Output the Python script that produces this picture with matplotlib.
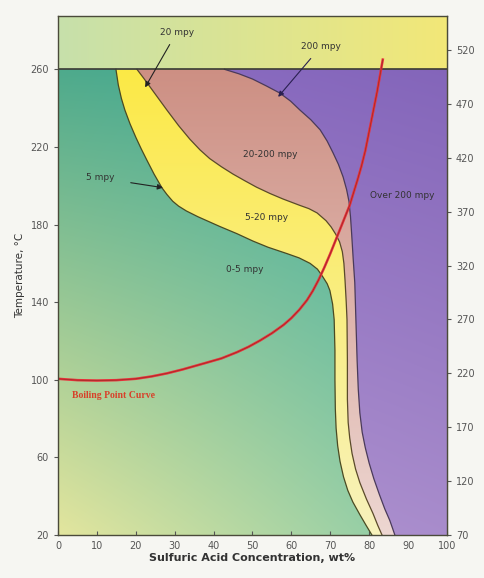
import numpy as np
import matplotlib
matplotlib.use('Agg')
import matplotlib.pyplot as plt
from matplotlib.patches import Polygon, Rectangle

# iso-corrosion boundaries, (wt% H2SO4, deg C)
b5_conc = [14.9, 15.5, 16.3, 17.2, 18.5, 20.0, 21.4, 22.9, 24.7, 26.7, 28.0, 29.5, 31.0, 33.0, 36.0,
           41.6, 46.0, 50.1, 54.0, 58.9, 62.0, 64.8, 66.7, 68.1, 69.2, 69.9, 70.6, 71.0, 71.2, 71.2,
           71.3, 71.5, 71.9, 72.5, 73.4, 74.5, 75.8, 77.6, 79.2, 80.7]
b5_temp = [260, 252, 245, 239, 232, 225, 219, 213, 206, 199, 195.5, 192, 189.5, 187, 184,
           179, 175.3, 171.5, 168.3, 165, 162.8, 160, 157, 153, 149.5, 146, 139, 131, 115, 100,
           85, 75, 66, 58, 50, 43, 37, 30.5, 25, 20]
b20_conc = [20.3, 22.0, 24.0, 26.0, 28.0, 31.0, 33.9, 36.5, 39.0, 42.0, 45.0, 48.0, 51.0, 54.5, 57.8,
            62.0, 64.5, 66.6, 68.9, 70.2, 71.4, 72.4, 73.1, 73.5, 73.8, 74.1, 74.3, 74.4, 74.4, 74.6,
            75.0, 75.6, 76.5, 77.6, 79.3, 81.0, 82.2, 83.3]
b20_temp = [260, 255.5, 250, 244.5, 239, 231, 224, 218.5, 214, 209.8, 206, 202.6, 199.3, 196, 193.2,
            190, 188.2, 186, 182, 178.8, 175, 171, 166, 160, 151, 140, 131, 110, 90, 78,
            70, 62, 54, 47, 38.5, 31, 25, 20]
b200_conc = [42.8, 46.5, 50.0, 53.5, 57.0, 59.8, 62.2, 65.0, 67.4, 69.2, 70.7, 72.1, 73.3, 74.2, 74.8,
             75.2, 75.5, 75.9, 76.3, 76.6, 76.9, 77.2, 77.6, 78.2, 79.0, 80.0, 81.2, 82.6, 84.0, 85.3,
             86.0, 86.6]
b200_temp = [260, 257.7, 255, 251.5, 247.8, 243.6, 239, 234, 228.8, 223, 217, 211, 204.5, 198, 192,
             184, 175, 162, 150, 130, 110, 95, 83, 73, 65, 57, 49, 41, 33.5, 27.5,
             23.5, 20]

# boiling point curve
bp_conc = [0, 5, 10, 15, 20, 24, 28, 32, 35, 38, 42, 46, 49, 52, 55, 58, 60, 62, 64, 65.5,
           67, 68.5, 70, 72, 73.5, 75, 77, 78, 79, 80, 81, 82, 83.5]
bp_temp = [100.5, 99.8, 99.6, 99.8, 100.5, 101.7, 103.3, 105.3, 107, 108.7, 111, 114.2, 117, 120.3, 124,
           128.3, 131.8, 136, 141, 145.8, 151.5, 158, 165, 175, 182.5, 190, 203, 210, 218, 228,
           238, 248, 265]

x_ticks = list(range(0, 101, 10))
y_ticks = [20, 60, 100, 140, 180, 220, 260]
f_ticks = [70, 120, 170, 220, 270, 320, 370, 420, 470, 520]

TOP = 287.5

fig = plt.figure(figsize=(4.84, 5.78), dpi=100, facecolor='#f6f6f2')
ax = fig.add_axes([0.1198, 0.0744, 0.8037, 0.898])
ax.set_xlim(0, 100)
ax.set_ylim(20, TOP)

n = 200
gx, gy = np.meshgrid(np.linspace(0, 1, n), np.linspace(0, 1, n))
ext = [0, 100, 20, TOP]


def bilinear(bl, br, tl, tr):
    bl, br, tl, tr = [np.array(c) for c in (bl, br, tl, tr)]
    X = gx[..., None]
    Y = gy[..., None]
    return (bl * (1 - X) * (1 - Y) + br * X * (1 - Y) + tl * (1 - X) * Y + tr * X * Y)


def fill_grad(img, patch, z):
    ax.add_patch(patch)
    patch.set_visible(False)
    im = ax.imshow(np.clip(img, 0, 1), extent=ext, origin='lower', aspect='auto',
                   zorder=z, interpolation='bilinear')
    im.set_clip_path(patch)


# 0-5 mpy (background below 260)
green = bilinear((0.89, 0.90, 0.62), (0.52, 0.79, 0.66), (0.24, 0.64, 0.54), (0.20, 0.66, 0.62))
fill_grad(green, Rectangle((0, 20), 100, 240, transform=ax.transData), 1)

# above 260
band = bilinear((0.78, 0.88, 0.67), (0.95, 0.91, 0.47), (0.78, 0.88, 0.67), (0.95, 0.91, 0.47))
fill_grad(band, Rectangle((0, 260), 100, TOP - 260, transform=ax.transData), 1)


def region(cs, ts):
    pts = list(zip(cs, ts)) + [(100, 20), (100, 260)]
    return Polygon(pts, closed=True, transform=ax.transData)


yellow = bilinear((0.97, 0.95, 0.74), (0.97, 0.95, 0.74), (0.99, 0.91, 0.22), (0.99, 0.91, 0.22))
fill_grad(yellow, region(b5_conc, b5_temp), 2)
pink = bilinear((0.93, 0.84, 0.82), (0.93, 0.84, 0.82), (0.79, 0.53, 0.48), (0.79, 0.53, 0.48))
fill_grad(pink, region(b20_conc, b20_temp), 3)
purple = bilinear((0.72, 0.60, 0.83), (0.66, 0.55, 0.80), (0.53, 0.41, 0.76), (0.50, 0.38, 0.72))
fill_grad(purple, region(b200_conc, b200_temp), 4)

ax.plot(b5_conc, b5_temp, color='#4a4a22', lw=0.9, zorder=5)
ax.plot(b20_conc, b20_temp, color='#5a4a2a', lw=0.9, zorder=5)
ax.plot(b200_conc, b200_temp, color='#4a3a5a', lw=0.9, zorder=5)
ax.axhline(260, color='#3a3a35', lw=1.2, zorder=5)

ax.plot(bp_conc, bp_temp, color='#e8303a', lw=1.8, zorder=6)
ax.plot(bp_conc, bp_temp, color='#8a2a20', lw=0.4, zorder=6)

lab = dict(fontsize=6.5, color='#333333', zorder=8, ha='center', va='center')
ax.text(54.5, 216, '20-200 mpy', **lab)
ax.text(53.7, 183.4, '5-20 mpy', **lab)
ax.text(48, 156.6, '0-5 mpy', **lab)
ax.text(88.5, 195, 'Over 200 mpy', **lab)
ax.annotate('20 mpy', xy=(22.4, 250.7), xytext=(30.5, 279), **lab,
            arrowprops=dict(arrowstyle='-|>', color='#222222', lw=0.8, mutation_scale=8,
                            shrinkA=4, shrinkB=0))
ax.annotate('200 mpy', xy=(56.6, 245.8), xytext=(67.5, 271.5), **lab,
            arrowprops=dict(arrowstyle='-|>', color='#2a2050', lw=0.8, mutation_scale=8,
                            shrinkA=4, shrinkB=0))
ax.annotate('5 mpy', xy=(27, 199), xytext=(10.8, 204), **lab,
            arrowprops=dict(arrowstyle='-|>', color='#222222', lw=0.8, mutation_scale=8,
                            shrinkA=10, shrinkB=0))
ax.text(3.6, 92, 'Boiling Point Curve', fontsize=7, color='#d8402a', family='Liberation Serif',
        fontweight='bold', ha='left', va='center', zorder=8)

ax.set_xticks(x_ticks)
ax.set_yticks(y_ticks)
ax.tick_params(axis='x', direction='in', length=3, colors='#555555', labelsize=7, pad=4)
ax.tick_params(axis='y', direction='out', length=3, colors='#555555', labelsize=7)
for s in ax.spines.values():
    s.set_color('#4a4a3a')
    s.set_linewidth(1.0)
    s.set_zorder(9)

sec = ax.secondary_yaxis('right', functions=(lambda c: 1.8 * c + 34, lambda f: (f - 34) / 1.8))
sec.set_yticks(f_ticks)
sec.tick_params(direction='out', length=3, colors='#555555', labelsize=7)
sec.spines['right'].set_color('#4a4a3a')

ax.set_xlabel('Sulfuric Acid Concentration, wt%', fontsize=8, fontweight='bold', color='#333333', labelpad=2)
ax.set_ylabel('Temperature, °C', fontsize=7.5, color='#333333', labelpad=4)

fig.savefig('out.png', dpi=100, facecolor=fig.get_facecolor())
